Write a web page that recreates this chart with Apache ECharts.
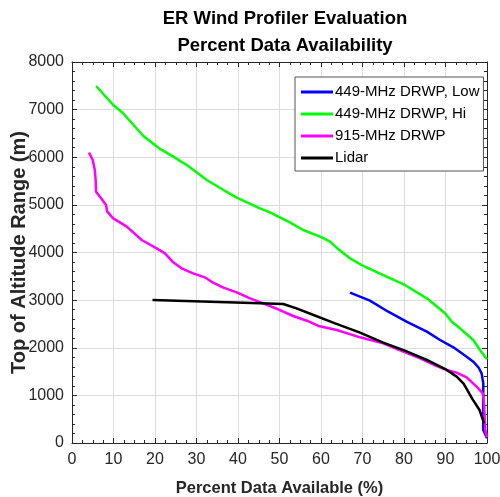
<!DOCTYPE html>
<html>
<head>
<meta charset="utf-8">
<script src="https://cdn.jsdelivr.net/npm/echarts@6/dist/echarts.min.js"></script>
<style>html,body{margin:0;padding:0;background:#fff}#c{width:500px;height:497px}</style>
</head>
<body>
<div id="c"></div>
<script>
var seriesNames = ['449-MHz DRWP, Low', '449-MHz DRWP, Hi', '915-MHz DRWP', 'Lidar'];
var xTicks = [0, 10, 20, 30, 40, 50, 60, 70, 80, 90, 100];
var yTicks = [0, 1000, 2000, 3000, 4000, 5000, 6000, 7000, 8000];

var low449 = [[67.0,3157],[71.8,2989],[76.2,2757],[80.6,2548],[85.5,2338],[88.7,2163],[91.9,2009],[95.1,1812],[96.7,1707],[98.0,1580],[98.7,1463],[99.1,1253],[99.1,903],[99.1,273],[99.8,140],[100,98]];
var hi449 = [[5.8,7496],[9.95,7097],[12.2,6935],[17.2,6446],[21.0,6187],[24.4,6012],[28.0,5816],[32.5,5522],[36.5,5312],[39.7,5151],[45.3,4927],[47.7,4843],[52.5,4633],[55.7,4472],[59.8,4332],[62.2,4227],[64.2,4067],[67.0,3878],[70.2,3717],[75.8,3493],[80.2,3318],[85.5,3038],[89.9,2723],[91.5,2548],[93.5,2408],[96.7,2163],[98.3,1953],[100,1757]];
var drwp915 = [[4.1,6096],[5.0,5942],[5.5,5732],[5.7,5522],[5.8,5277],[7.2,5116],[8.2,4997],[8.5,4857],[9.95,4717],[13.2,4542],[16.8,4262],[20.4,4088],[22.4,3983],[24.4,3794],[26.4,3668],[29.2,3563],[32.0,3479],[34.0,3366],[36.5,3261],[39.7,3163],[42.9,3038],[46.1,2933],[49.0,2830],[53.3,2667],[56.6,2568],[59.4,2457],[63.8,2373],[69.4,2219],[75.0,2093],[79.8,1918],[83.9,1778],[87.9,1617],[90.3,1533],[92.7,1477],[95.1,1379],[97.5,1183],[99.0,1043],[99.3,798],[99.6,273],[100,119]];
var lidar = [[19.4,3003],[45.3,2933],[50.9,2918],[54.1,2828],[58.2,2688],[63.4,2513],[69.4,2317],[75.0,2107],[80.2,1939],[85.5,1743],[90.3,1533],[92.7,1393],[94.4,1240],[96.5,920],[98.2,693],[99.3,413]];

var colors = ['#0000ff', '#00ff00', '#ff00ff', '#000000'];
var dataSets = [low449, hi449, drwp915, lidar];

var axisColor = '#262626';
var fam = 'Liberation Sans';
function xAx(pos, showLabel) {
  return {
    type: 'value', position: pos, min: 0, max: 100, interval: 10,
    axisLine: {show: true, onZero: false, lineStyle: {color: axisColor, width: 1}},
    axisTick: {show: true, inside: true, length: 5, lineStyle: {color: axisColor}},
    minorTick: {show: true, splitNumber: 4, length: 3, lineStyle: {color: axisColor}},
    splitLine: {show: showLabel, lineStyle: {color: '#dcdcdc', width: 1}},
    axisLabel: {show: showLabel, color: axisColor, fontSize: 16, fontFamily: fam, margin: 9,
      formatter: function (v) { return xTicks.indexOf(v) >= 0 ? String(v) : ''; }},
    name: showLabel ? 'Percent Data Available (%)' : '',
    nameLocation: 'middle', nameGap: 37,
    nameTextStyle: {color: axisColor, fontSize: 16.5, fontWeight: 'bold', fontFamily: fam}
  };
}
function yAx(pos, showLabel) {
  return {
    type: 'value', position: pos, min: 0, max: 8000, interval: 1000,
    axisLine: {show: true, onZero: false, lineStyle: {color: axisColor, width: 1}},
    axisTick: {show: true, inside: true, length: 5, lineStyle: {color: axisColor}},
    minorTick: {show: true, splitNumber: 5, length: 3, lineStyle: {color: axisColor}},
    splitLine: {show: showLabel, lineStyle: {color: '#dcdcdc', width: 1}},
    axisLabel: {show: showLabel, color: axisColor, fontSize: 16, fontFamily: fam, margin: 8,
      formatter: function (v) { return yTicks.indexOf(v) >= 0 ? String(v) : ''; }},
    name: showLabel ? 'Top of Altitude Range (m)' : '',
    nameLocation: 'middle', nameGap: 43, nameMoveOverlap: false,
    nameTextStyle: {color: axisColor, fontSize: 20, fontWeight: 'bold', fontFamily: fam}
  };
}

var chart = echarts.init(document.getElementById('c'), null, {renderer: 'canvas'});
chart.setOption({
  animation: false,
  backgroundColor: '#fff',
  title: {
    text: 'ER Wind Profiler Evaluation\nPercent Data Availability',
    left: 280, top: 0, textAlign: 'center',
    textStyle: {fontSize: 18.5, fontWeight: 'bold', color: '#000', fontFamily: fam, lineHeight: 27}
  },
  grid: {left: 72, right: 13, top: 62, bottom: 54, containLabel: false, outerBoundsMode: 'none'},
  xAxis: [xAx('bottom', true), xAx('top', false)],
  yAxis: [yAx('left', true), yAx('right', false)],
  legend: {
    orient: 'vertical', left: 295, top: 77,
    data: seriesNames,
    icon: 'rect',
    itemWidth: 32, itemHeight: 3, itemGap: 6,
    padding: [7, 4, 5, 6],
    borderColor: '#555', borderWidth: 1, borderRadius: 0, backgroundColor: '#fff',
    textStyle: {fontSize: 15, color: '#000', fontFamily: fam, padding: [0, 0, 0, -3], lineHeight: 16}
  },
  series: seriesNames.map(function (n, i) {
    return {
      name: n, type: 'line', data: dataSets[i], symbol: 'none', showSymbol: false,
      xAxisIndex: 0, yAxisIndex: 0,
      lineStyle: {color: colors[i], width: 2.5}, itemStyle: {color: colors[i]}, z: 3
    };
  })
});
</script>
</body>
</html>
